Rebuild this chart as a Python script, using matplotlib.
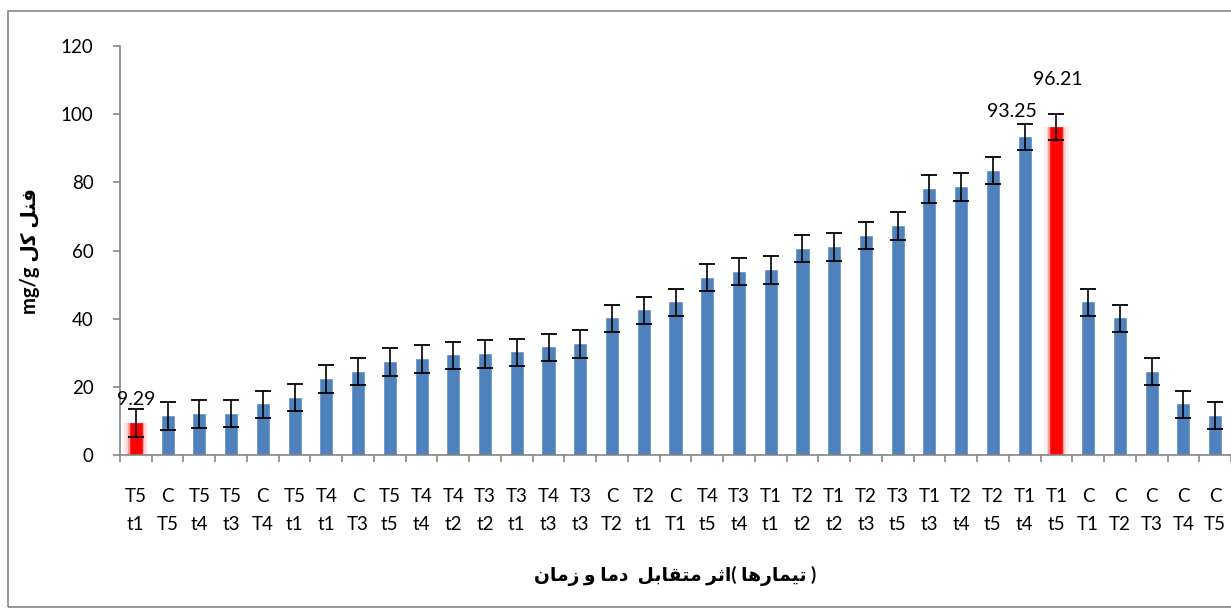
import matplotlib.pyplot as plt
import numpy as np
from matplotlib.patches import Rectangle

top_row = ['T5', 'C', 'T5', 'T5', 'C', 'T5', 'T4', 'C', 'T5', 'T4', 'T4', 'T3', 'T3', 'T4', 'T3',
           'C', 'T2', 'C', 'T4', 'T3', 'T1', 'T2', 'T1', 'T2', 'T3', 'T1', 'T2', 'T2', 'T1', 'T1',
           'C', 'C', 'C', 'C', 'C']
bottom_row = ['t1', 'T5', 't4', 't3', 'T4', 't1', 't1', 'T3', 't5', 't4', 't2', 't2', 't1', 't3', 't3',
              'T2', 't1', 'T1', 't5', 't4', 't1', 't2', 't2', 't3', 't5', 't3', 't4', 't5', 't4', 't5',
              'T1', 'T2', 'T3', 'T4', 'T5']
values = [9.29, 11.5, 12.0, 12.1, 14.9, 16.8, 22.4, 24.4, 27.3, 28.2, 29.2, 29.6, 30.1, 31.6, 32.5,
          40.1, 42.4, 44.8, 52.0, 53.8, 54.3, 60.5, 61.0, 64.3, 67.2, 78.1, 78.6, 83.4, 93.25, 96.21,
          44.8, 40.1, 24.4, 14.9, 11.5]
errors = [4.1, 4.1, 4.0, 4.0, 4.0, 4.0, 4.1, 4.0, 4.0, 4.0, 4.0, 4.0, 4.0, 4.0, 4.1,
          4.0, 4.0, 4.0, 4.0, 4.0, 4.0, 4.0, 4.0, 4.0, 4.0, 4.1, 4.0, 4.0, 3.9, 3.8,
          4.0, 4.0, 4.0, 4.0, 4.0]
highlight = [0, 29]  # min and max bars drawn in red

# Arabic text in visual order with presentation forms (matplotlib does no shaping)
ylabel = 'mg/g \ufedd\ufedb \ufede\ufee8\ufed3'
xlabel = ('\ufee5\ufe8e\ufee3\ufeaf \ufeed \ufe8e\ufee3\ufea9  \ufede\ufe91\ufe8e\ufed8\ufe98\ufee3 '
          '\ufeae\ufe9b\ufe8d( \ufe8e\ufeeb\ufead\ufe8e\ufee4\ufef4\ufe97 )')

plt.rcParams['font.family'] = ['Lato', 'DejaVu Sans']

fig = plt.figure(figsize=(12.31, 6.10), dpi=100)
ax = fig.add_axes([120 / 1231, 155 / 610, 1111 / 1231, 409 / 610])

x = np.arange(len(values))
blue = '#4F81BD'
colors = [('#FF0000' if i in highlight else blue) for i in x]

# soft glow behind the red bars
for w, a in [(0.78, 0.06), (0.62, 0.12), (0.5, 0.25)]:
    ax.bar(x[highlight], np.array(values)[highlight], width=w, color='#FF0000', alpha=a, linewidth=0)
ax.bar(x, values, width=0.38, color=colors, edgecolor=colors, linewidth=0.4)
ax.errorbar(x, values, yerr=errors, fmt='none', ecolor='black', elinewidth=1.2,
            capsize=5.5, capthick=1.3)

ax.annotate('9.29', (x[0], values[0] + errors[0]), xytext=(0, 1), textcoords='offset points',
            ha='center', va='bottom', fontsize=14)
ax.annotate('93.25', (x[28], values[28] + errors[28]), xytext=(-9, 3), textcoords='offset points',
            ha='center', va='bottom', fontsize=14)
ax.annotate('96.21', (x[29], values[29] + errors[29]), xytext=(1, 19), textcoords='offset points',
            ha='center', va='bottom', fontsize=14)

ax.set_xlim(-0.5, len(values) - 0.5)
ax.set_ylim(0, 120)
ax.set_yticks(np.arange(0, 121, 20))
ax.set_xticks(x)
ax.set_xticklabels([a + '\n' + b for a, b in zip(top_row, bottom_row)], linespacing=1.75)
ax.set_xticks(np.arange(-0.5, len(values), 1), minor=True)

for s in ['top', 'right']:
    ax.spines[s].set_visible(False)
for s in ['left', 'bottom']:
    ax.spines[s].set_color('#868686')
    ax.spines[s].set_linewidth(1.2)

ax.tick_params(axis='y', length=5, width=1.2, color='#868686', labelsize=13.5, pad=14)
ax.tick_params(axis='x', which='major', length=0, labelsize=13.5, pad=24)
ax.tick_params(axis='x', which='minor', length=5, width=1.2, color='#868686')

ax.set_ylabel(ylabel, fontsize=14.5, fontweight='bold', labelpad=15)
ax.set_xlabel(xlabel, fontsize=13.5, fontweight='bold', labelpad=24)

fig.patches.append(Rectangle((8 / 1231, 3 / 610), 1.1, 596 / 610, transform=fig.transFigure,
                             fill=False, edgecolor='#868686', linewidth=1.2))

fig.savefig('out.png', dpi=100)
